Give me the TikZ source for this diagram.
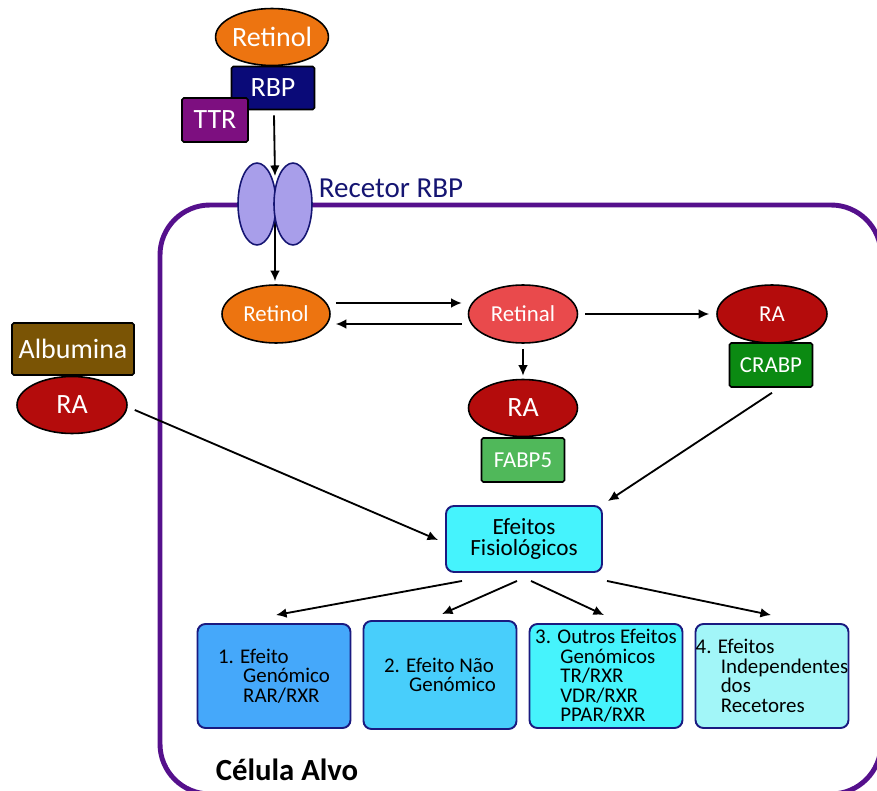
\documentclass[tikz,border=0pt]{standalone}
\usepackage{fontspec}
\setmainfont{Carlito}
\usetikzlibrary{shapes.geometric,arrows.meta,calc}

\definecolor{retinolorange}{HTML}{ED7410}
\definecolor{rbpnavy}{HTML}{0A0A78}
\definecolor{ttrpurple}{HTML}{7D0F80}
\definecolor{recfill}{HTML}{A89EEA}
\definecolor{recnavy}{HTML}{151572}
\definecolor{cellpurple}{HTML}{55108C}
\definecolor{retinalred}{HTML}{E94A4C}
\definecolor{radark}{HTML}{B40C0C}
\definecolor{crabpgreen}{HTML}{0B8A12}
\definecolor{fabpgreen}{HTML}{50B85A}
\definecolor{albbrown}{HTML}{7A5405}
\definecolor{efcyan}{HTML}{45F3FD}
\definecolor{boxone}{HTML}{45A8FA}
\definecolor{boxtwo}{HTML}{48CEFB}
\definecolor{boxthree}{HTML}{46F3FC}
\definecolor{boxfour}{HTML}{A2F6F8}
\definecolor{boxline}{HTML}{1A1A80}

\newcommand{\txtbig}{\fontsize{15.9}{17}\selectfont}
\newcommand{\txtmid}{\fontsize{13}{14}\selectfont}
\newcommand{\txtrec}{\fontsize{16.5}{18}\selectfont}
\newcommand{\txtef}{\fontsize{13.2}{11.9}\selectfont}
\newcommand{\txtbox}{\fontsize{11.9}{11.05}\selectfont}
\newcommand{\txtcell}{\fontsize{17.5}{19}\selectfont\bfseries}
\newcommand{\boxind}{\hspace*{1.2em}}

\begin{document}
\begin{tikzpicture}[x=0.02cm,y=-0.02cm,
    mol/.style={ellipse,draw=black,line width=0.9pt,text=white,inner sep=0pt},
    prot/.style={rectangle,draw=black,line width=0.9pt,text=white,inner sep=0pt,rounded corners=1pt},
    recpt/.style={ellipse,draw=recnavy,fill=recfill,line width=0.9pt,inner sep=0pt,minimum width=0.76cm,minimum height=1.64cm},
    efbox/.style={rectangle,draw=boxline,line width=1.1pt,rounded corners=4.5pt,inner sep=0pt,align=left,minimum width=3.06cm,minimum height=2.08cm,font=\txtbox},
    arr/.style={-{Latex[length=6pt,width=5.5pt]},line width=1.05pt}]
    \clip (0,0) rectangle (877,791);
    % target cell
    \draw[cellpurple,line width=2.8pt,rounded corners=1cm] (160,205) rectangle (881,794);
    \node[font=\txtcell] (alvo) at (287,770) {Célula Alvo};
    % retinol bound to RBP and TTR outside
    \node[mol,fill=retinolorange,minimum width=2.16cm,minimum height=1.14cm,font=\txtbig] (retinoltop) at (272,37) {Retinol};
    \node[prot,fill=rbpnavy,minimum width=1.66cm,minimum height=0.86cm,font=\txtbig] (rbp) at (273,88) {RBP};
    \node[prot,fill=ttrpurple,minimum width=1.32cm,minimum height=0.88cm,font=\txtbig] (ttr) at (215,120) {TTR};
    % receptor
    \coordinate (porein) at (275,176);
    \coordinate (poreout) at (275,210);
    \node[mol,fill=retinolorange,minimum width=2.16cm,minimum height=1.16cm,font=\txtmid] (retinol) at (276,314) {Retinol};
    \draw[arr] (poreout) -- ($(retinol.north)+(-1,-3)$);
    \node[recpt] (recleft) at (257,204) {};
    \node[recpt] (recright) at (293,204) {};
    \node[text=recnavy,font=\txtrec] (reclabel) at (391,188) {Recetor RBP};
    \draw[arr] ($(rbp.south)+(1,5)$) -- (porein);
    % inside the cell
    \node[mol,fill=retinalred,minimum width=2.18cm,minimum height=1.16cm,font=\txtmid] (retinal) at (523,314) {Retinal};
    \node[prot,fill=crabpgreen,minimum width=1.66cm,minimum height=0.88cm,font=\txtmid] (crabp) at (771,365) {CRABP};
    \node[mol,fill=radark,minimum width=2.2cm,minimum height=1.16cm,font=\txtmid] (raright) at (772,314) {RA};
    \node[prot,fill=fabpgreen,minimum width=1.66cm,minimum height=0.88cm,font=\txtmid] (fabp) at (523,460) {FABP5};
    \node[mol,fill=radark,minimum width=2.18cm,minimum height=1.14cm,font=\txtbig] (ramid) at (523,408) {RA};
    % albumin outside
    \node[prot,fill=albbrown,minimum width=2.44cm,minimum height=1.04cm,font=\txtbig] (albumina) at (73,349) {Albumina};
    \node[mol,fill=radark,minimum width=2.2cm,minimum height=1.14cm,font=\txtbig] (raleft) at (72,405) {RA};
    \draw[arr] ($(retinol.east)+(5,-11)$) -- ($(retinal.west)+(-6,-11)$);
    \draw[arr] ($(retinal.west)+(-6,10)$) -- ($(retinol.east)+(5,10)$);
    \draw[arr] ($(retinal.east)+(7,0)$) -- ($(raright.west)+(-7,0)$);
    \draw[arr] ($(retinal.south)+(0,5)$) -- ($(ramid.north)+(0,-3)$);
    % effects
    \node[rectangle,draw=boxline,fill=efcyan,line width=1.1pt,rounded corners=4.5pt,minimum width=3.12cm,minimum height=1.32cm,align=center,font=\txtef] (efeitos) at (524,539) {Efeitos\\Fisiológicos};
    \draw[arr] ($(raleft.east)+(7,5)$) -- ($(efeitos.west)+(-7,1)$);
    \draw[arr] ($(crabp.south)+(1,5)$) -- ($(efeitos.north east)+(5,-4)$);
    \node[efbox,fill=boxone] (b1) at (274,676) {1. Efeito\\\boxind Genómico\\\boxind RAR/RXR};
    \node[efbox,fill=boxtwo,minimum height=2.16cm] (b2) at (440,675) {2. Efeito Não\\\boxind Genómico};
    \node[efbox,fill=boxthree] (b3) at (606,676) {3. Outros Efeitos\\\boxind Genómicos\\\boxind TR/RXR\\\boxind VDR/RXR\\\boxind PPAR/RXR};
    \node[efbox,fill=boxfour] (b4) at (772,676) {4. Efeitos\\\boxind Independentes\\\boxind dos\\\boxind Recetores};
    \draw[arr] ($(efeitos.south)+(-62,8)$) -- ($(b1.north)+(2,-8)$);
    \draw[arr] ($(efeitos.south)+(-7,8)$) -- ($(b2.north)+(2,-6)$);
    \draw[arr] ($(efeitos.south)+(7,8)$) -- ($(b3.north)+(-2,-8)$);
    \draw[arr] ($(efeitos.south)+(83,8)$) -- ($(b4.north)+(-1,-8)$);
\end{tikzpicture}
\end{document}
